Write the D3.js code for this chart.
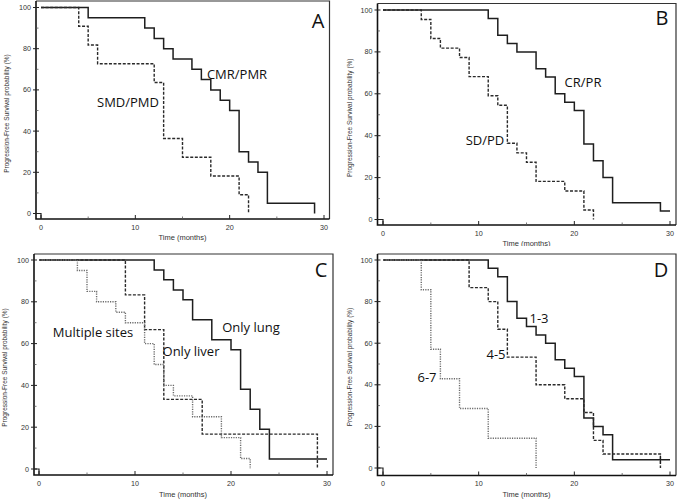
<!DOCTYPE html>
<html><head><meta charset="utf-8">
<script src="https://cdn.jsdelivr.net/npm/d3@7"></script>
<style>
html,body{margin:0;padding:0;background:#fff;}
svg{display:block;}
</style></head>
<body>
<svg id="chart" width="678" height="500"></svg>
<script>
// ---------- DATA ----------
const xTicks = [0, 10, 20, 30];
const yTicks = [0, 20, 40, 60, 80, 100];
const xTitle = "Time (months)";
const yTitle = "Progression-Free Survival probability (%)";

// Panel A
const A_cmr_t = [0,5,11,12,13,14,16,17,18,19,20,21,22,23,24,29];
const A_cmr_s = [100,95,90,85,80,75,70,65,60,55,50,30,25,20,5,0];
const A_smd_t = [0,4,5,6,12,13,15,18,21,22];
const A_smd_s = [100,90.9,81.8,72.7,63.6,36.4,27.3,18.2,9.1,0];
// Panel B
const B_cr_t = [0,11,12,13,14,16,17,18,19,20,21,22,23,24,29,30];
const B_cr_s = [100,96,88,84,80,72,68,60,56,52,36,28,20,8,4,4];
const B_sd_t = [0,4,5,6,8,9,11,12,13,14,15,16,19,21,22];
const B_sd_s = [100,95.5,86.4,81.8,77.3,68.2,59.1,54.5,36.4,31.8,27.3,18.2,13.6,4.5,0];
// Panel C
const C_lung_t = [0,12,13,14,15,16,18,20,21,22,23,24,30];
const C_lung_s = [100,95.2,90.5,85.7,81,71.4,61.9,57.1,38.1,28.6,19,4.8,4.8];
const C_liver_t = [0,9,11,13,17,29];
const C_liver_s = [100,83.3,66.7,33.3,16.7,0];
const C_multi_t = [0,4,5,6,8,9,11,12,13,14,16,19,21,22];
const C_multi_s = [100,95,85,80,75,70,60,50,40,35,25,15,5,0];
// Panel D
const D_13_t = [0,11,12,13,14,15,16,17,18,19,20,21,22,23,24,30];
const D_13_s = [100,96,92,80,72,68,64,60,52,48,44,24,20,16,4,4];
const D_45_t = [0,9,11,12,13,16,19,21,22,23,29];
const D_45_s = [100,86.7,80,66.7,53.3,40,33.3,26.7,13.3,6.7,0];
const D_67_t = [0,4,5,6,8,11,16];
const D_67_s = [100,85.7,57.1,42.9,28.6,14.3,0];
const D_censor = [[29, 4]];

// ---------- STYLES ----------
const styles = {
  solid:  {stroke:"#1e1e1e", width:1.5, dash:null},
  dashed: {stroke:"#2a2a2a", width:1.4, dash:"3,1.6"},
  dotted: {stroke:"#6a6a6a", width:1.4, dash:"1.2,1.2"}
};

const panels = [
  {letter:"A", left:36, right:329.5, top:1, bottom:219, x0:41, x30:324, y100:7.5, y0:213.5,
   yTitleX:7, tickLabY:227, xTitleY:237, letterX:318, letterY:27.5, clipBottom:250,
   series:[{t:A_cmr_t,s:A_cmr_s,st:"solid"},{t:A_smd_t,s:A_smd_s,st:"dashed"}],
   labels:[{text:"CMR/PMR",x:237,y:74},{text:"SMD/PMD",x:128,y:102}]},
  {letter:"B", left:377.5, right:676, top:3.5, bottom:225, x0:383, x30:670, y100:10, y0:219.5,
   yTitleX:350, tickLabY:233, xTitleY:243.5, letterX:662, letterY:25, clipBottom:246,
   series:[{t:B_cr_t,s:B_cr_s,st:"solid"},{t:B_sd_t,s:B_sd_s,st:"dashed"}],
   labels:[{text:"CR/PR",x:583,y:82},{text:"SD/PD",x:485,y:140}]},
  {letter:"C", left:34, right:333, top:254, bottom:475, x0:39, x30:327, y100:260, y0:469,
   yTitleX:5, tickLabY:483, xTitleY:494, letterX:321, letterY:277, clipBottom:500,
   series:[{t:C_lung_t,s:C_lung_s,st:"solid"},{t:C_liver_t,s:C_liver_s,st:"dashed"},{t:C_multi_t,s:C_multi_s,st:"dotted"}],
   labels:[{text:"Only lung",x:251,y:327},{text:"Only liver",x:191,y:351},{text:"Multiple sites",x:93,y:332}]},
  {letter:"D", left:377.5, right:676, top:254, bottom:475.5, x0:383, x30:670, y100:260, y0:468,
   yTitleX:350, tickLabY:483, xTitleY:494, letterX:661, letterY:277, clipBottom:500,
   series:[{t:D_13_t,s:D_13_s,st:"solid"},{t:D_45_t,s:D_45_s,st:"dashed"},{t:D_67_t,s:D_67_s,st:"dotted"}],
   censor:D_censor,
   labels:[{text:"1-3",x:539,y:318},{text:"4-5",x:496,y:354},{text:"6-7",x:427,y:377}]}
];

const svg = d3.select("#chart");
const defs = svg.append("defs");

panels.forEach((p, i) => {
  const clipId = "clip" + i;
  defs.append("clipPath").attr("id", clipId)
    .append("rect").attr("x", p.left - 40).attr("y", p.top - 5)
    .attr("width", p.right - p.left + 45).attr("height", p.clipBottom - p.top + 5);

  const g = svg.append("g").attr("clip-path", `url(#${clipId})`);
  const x = d3.scaleLinear().domain([0, 30]).range([p.x0, p.x30]);
  const y = d3.scaleLinear().domain([0, 100]).range([p.y0, p.y100]);

  // frame (top and right)
  g.append("path")
    .attr("d", `M${p.left},${p.top}H${p.right}V${p.bottom}`)
    .attr("fill", "none").attr("stroke", "#333").attr("stroke-width", 1.2);

  // axes lines
  g.append("path")
    .attr("d", `M${p.left},${p.top}V${p.bottom}H${p.right}`)
    .attr("fill", "none").attr("stroke", "#111").attr("stroke-width", 1.6);

  // y ticks (major + minor)
  const yMinor = d3.range(10, 100, 20);
  g.selectAll(".ymaj").data(yTicks).join("line")
    .attr("x1", p.left - 3).attr("x2", p.left + 3)
    .attr("y1", d => y(d)).attr("y2", d => y(d))
    .attr("stroke", "#222").attr("stroke-width", 1);
  g.selectAll(".ymin").data(yMinor).join("line")
    .attr("x1", p.left).attr("x2", p.left + 2.5)
    .attr("y1", d => y(d)).attr("y2", d => y(d))
    .attr("stroke", "#555").attr("stroke-width", 0.8);
  g.selectAll(".ylab").data(yTicks).join("text")
    .attr("x", p.left - 5).attr("y", d => y(d)).attr("dy", "0.35em")
    .attr("text-anchor", "end")
    .attr("font-family", "Liberation Sans, Arial, sans-serif").attr("font-size", 7.2)
    .attr("fill", "#333").text(d => d);

  // x ticks
  const xMinor = [5, 15, 25];
  g.selectAll(".xmaj").data(xTicks).join("line")
    .attr("x1", d => x(d)).attr("x2", d => x(d))
    .attr("y1", p.bottom).attr("y2", p.bottom - 4)
    .attr("stroke", "#222").attr("stroke-width", 1);
  g.selectAll(".xmin").data(xMinor).join("line")
    .attr("x1", d => x(d)).attr("x2", d => x(d))
    .attr("y1", p.bottom).attr("y2", p.bottom - 2.5)
    .attr("stroke", "#555").attr("stroke-width", 0.8);
  g.selectAll(".xlab").data(xTicks).join("text")
    .attr("x", d => x(d)).attr("y", p.tickLabY).attr("dy", "0.35em")
    .attr("text-anchor", "middle")
    .attr("font-family", "Liberation Sans, Arial, sans-serif").attr("font-size", 7.2)
    .attr("fill", "#333").text(d => d);

  // origin connector box
  g.append("path")
    .attr("d", `M${p.left},${y(0)}H${x(0)}V${p.bottom}`)
    .attr("fill", "none").attr("stroke", "#222").attr("stroke-width", 1.2);

  // axis titles
  g.append("text")
    .attr("x", (p.x0 + p.x30) / 2).attr("y", p.xTitleY).attr("dy", "0.35em")
    .attr("text-anchor", "middle")
    .attr("font-family", "Liberation Sans, Arial, sans-serif").attr("font-size", 7.5)
    .attr("fill", "#333").text(xTitle);
  g.append("text")
    .attr("transform", `translate(${p.yTitleX},${(p.y0 + p.y100) / 2 + 3}) rotate(-90)`)
    .attr("dy", "0.35em")
    .attr("text-anchor", "middle")
    .attr("font-family", "Liberation Sans, Arial, sans-serif").attr("font-size", 6.5)
    .attr("fill", "#333").text(yTitle);

  // survival curves
  const line = d3.line().curve(d3.curveStepAfter).x(d => x(d[0])).y(d => y(d[1]));
  p.series.forEach(se => {
    const pts = se.t.map((t, k) => [t, se.s[k]]);
    const st = styles[se.st];
    g.append("path").datum(pts).attr("d", line)
      .attr("fill", "none").attr("stroke", st.stroke).attr("stroke-width", st.width)
      .attr("stroke-dasharray", st.dash);
  });

  if (p.censor) {
    g.selectAll(".cens").data(p.censor).join("line")
      .attr("x1", d => x(d[0])).attr("x2", d => x(d[0]))
      .attr("y1", d => y(d[1]) - 4).attr("y2", d => y(d[1]) + 4)
      .attr("stroke", "#1e1e1e").attr("stroke-width", 1.2);
  }

  // curve labels
  g.selectAll(".clab").data(p.labels).join("text")
    .attr("x", d => d.x).attr("y", d => d.y).attr("dy", "0.35em")
    .attr("text-anchor", "middle")
    .attr("font-family", "Open Sans, sans-serif").attr("font-size", 13)
    .attr("fill", "#111").text(d => d.text);

  // panel letter
  g.append("text")
    .attr("x", p.letterX).attr("y", p.letterY)
    .attr("text-anchor", "middle")
    .attr("font-family", "Open Sans, sans-serif").attr("font-size", 20)
    .attr("fill", "#111").text(p.letter);
});
</script>
</body></html>
